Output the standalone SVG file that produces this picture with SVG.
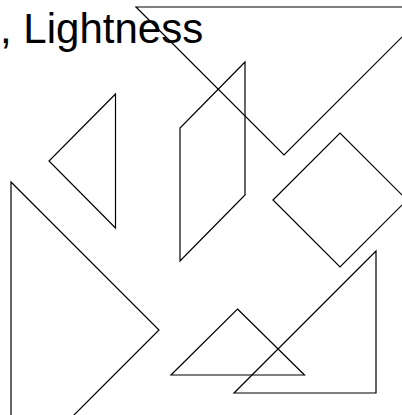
<svg xmlns="http://www.w3.org/2000/svg" width="402" height="415" viewBox="0 0 402 415">
<style>
.p{fill:none;stroke:#000;stroke-width:1.2}
.t{font-family:"Liberation Sans",Arial,sans-serif;font-size:42px;fill:#000}
</style>
<rect width="402" height="415" fill="#fff"/>
<text class="t" x="0" y="43">, Lightness</text>
<g id="big-top"><polygon class="p" points="136,7 432,7 284,155"/></g>
<g id="small-left"><polygon class="p" points="115.5,94 49,161 115.5,228"/></g>
<g id="parallelogram"><polygon class="p" points="245,62 180,128 180,261 245,195"/></g>
<g id="square"><polygon class="p" points="273,200 340,133 407,200 340,267"/></g>
<g id="big-left"><polygon class="p" points="11,182 159,330 11,478"/></g>
<g id="medium"><polygon class="p" points="376,251 376,393 234,393"/></g>
<g id="small-bottom"><polygon class="p" points="237.5,309 304.5,375 171,375"/></g>
</svg>
